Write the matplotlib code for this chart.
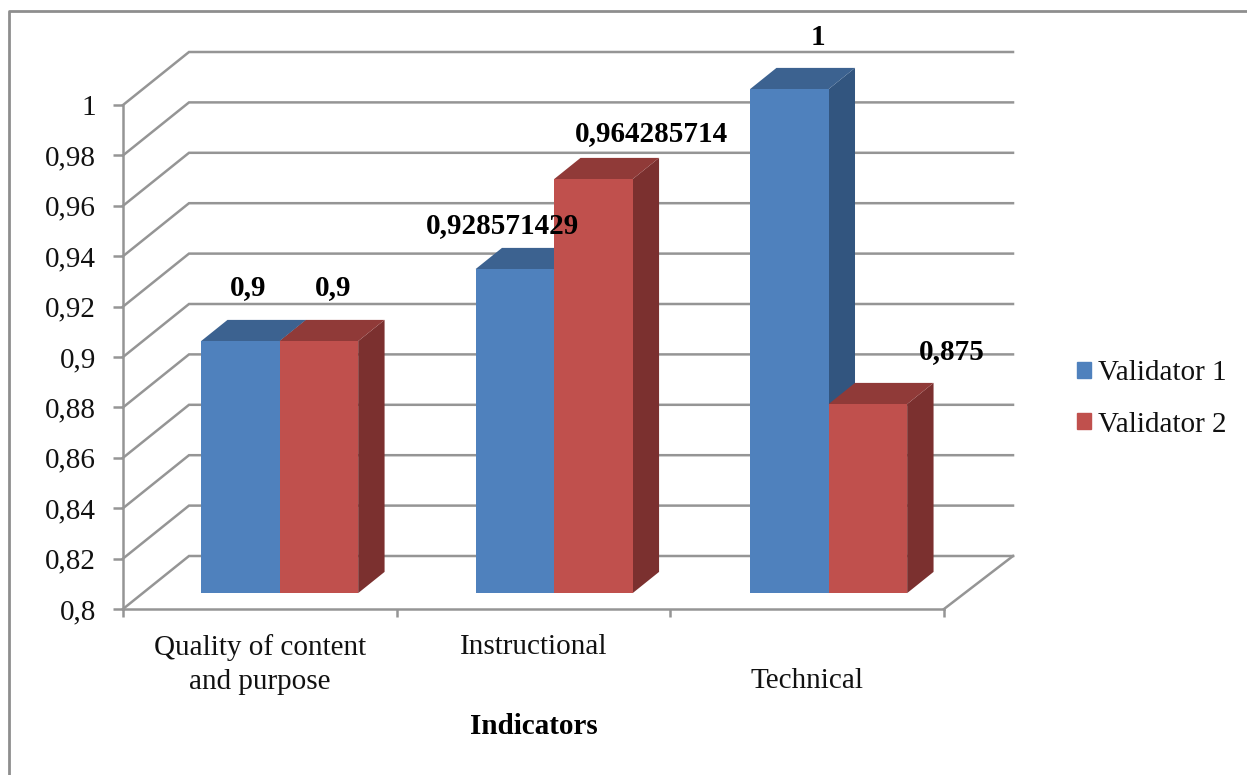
import matplotlib
matplotlib.use("Agg")  # headless, no display
import matplotlib.pyplot as plt
from matplotlib.lines import Line2D
from matplotlib.patches import Patch

categories = ["Quality of content\nand purpose", "Instructional\n ", "\nTechnical"]
validator_1 = [0.9, 0.928571429, 1.0]
validator_2 = [0.9, 0.964285714, 0.875]
labels_1 = ["0,9", "0,928571429", "1"]
labels_2 = ["0,9", "0,964285714", "0,875"]
y_ticks = [0.8, 0.82, 0.84, 0.86, 0.88, 0.9, 0.92, 0.94, 0.96, 0.98, 1.0]
y_tick_labels = ["0,8", "0,82", "0,84", "0,86", "0,88", "0,9", "0,92", "0,94", "0,96", "0,98", "1"]

W, H = 1247, 775
GRID = "#959595"
# fake 3d: how far the back wall is shifted from the front plane, in data units
DEPTH_X = 66 / 273.67
DEPTH_Y = 53 / 2520
BACK_STRETCH = 0.011  # back wall is a touch wider than the front
BAR_STEP = 1.003
BAR_W = 0.287
BAR_NEAR, BAR_FAR = 0.3, 0.7  # bar position inside the depth

plt.rcParams["font.family"] = ["Liberation Serif", "DejaVu Serif"]
fig = plt.figure(figsize=(W / 100, H / 100), dpi=100)
ax = fig.add_axes([123 / W, (H - 609) / H, 821 / W, 504 / H])
ax.set_xlim(0, 3)
ax.set_ylim(0.8, 1.0)
ax.patch.set_visible(False)


def box(x0, value, front, top, side):
    x0 = x0 + DEPTH_X * BAR_NEAR
    x1 = x0 + BAR_W
    dx, dy = DEPTH_X * (BAR_FAR - BAR_NEAR), DEPTH_Y * (BAR_FAR - BAR_NEAR)
    y0 = 0.8 + DEPTH_Y * BAR_NEAR
    y1 = y0 + (value - 0.8)  # value measured from the shifted floor
    kw = dict(clip_on=False, linewidth=0, zorder=3)
    ax.fill([x1, x1 + dx, x1 + dx, x1], [y0, y0 + dy, y1 + dy, y1], color=side, **kw)
    ax.fill([x0, x0 + dx, x1 + dx, x1], [y1, y1 + dy, y1 + dy, y1], color=top, **kw)
    ax.fill([x0, x1, x1, x0], [y0, y0, y1, y1], color=front, **kw)
    return x1, y1


# walls: diagonal on the left, line along the back, then floor edge
back_right = 3 + DEPTH_X + BACK_STRETCH
for t in y_ticks:
    ax.plot([0, DEPTH_X, back_right], [t, t + DEPTH_Y, t + DEPTH_Y],
            color=GRID, lw=1.8, clip_on=False, zorder=1, solid_joinstyle="miter")
ax.plot([3, back_right], [0.8, 0.8 + DEPTH_Y], color=GRID, lw=1.8, clip_on=False, zorder=1)

blue = ("#4F81BD", "#3C6290", "#32557F")
red = ("#C0504D", "#903A38", "#7B302F")
# label shift from the bar's top, px
offsets_1 = [(8, 54), (-12, 44), (29, 52)]
offsets_2 = [(14, 54), (58, 46), (84, 53)]

for i in range(len(categories)):
    left = i * BAR_STEP + 0.5 - BAR_W
    edge1, top1 = box(left, validator_1[i], *blue)
    edge2, top2 = box(left + BAR_W, validator_2[i], *red)
    for edge, top, txt, off in [(edge1, top1, labels_1[i], offsets_1[i]),
                                (edge2, top2, labels_2[i], offsets_2[i])]:
        ax.annotate(txt, (edge - BAR_W / 2, top), xytext=off, textcoords="offset pixels",
                    ha="center", va="center", fontsize=21, fontweight="bold",
                    color="black", zorder=5, annotation_clip=False)

for s in ["top", "right"]:
    ax.spines[s].set_visible(False)
for s in ["left", "bottom"]:
    ax.spines[s].set_color(GRID)
    ax.spines[s].set_linewidth(1.8)

ax.set_yticks(y_ticks, y_tick_labels, fontsize=21, color="#111111")
ax.set_xticks([0, 1, 2, 3], ["", "", "", ""])
ax.set_xticks([0.5, 1.5, 2.5], categories, minor=True, fontsize=21, color="#111111", linespacing=1.42)
ax.tick_params(axis="y", length=7.5, width=1.8, color=GRID, pad=12)
ax.tick_params(axis="x", which="major", length=6, width=1.8, color=GRID)
ax.tick_params(axis="x", which="minor", length=0, pad=18)
ax.set_xlabel("Indicators", fontsize=21, fontweight="bold", labelpad=12.6)

handles = [Patch(color=blue[0], label="Validator 1"), Patch(color=red[0], label="Validator 2")]
fig.legend(handles=handles, loc="center left", bbox_to_anchor=(1077 / W, 1 - 399 / H),
           frameon=False, fontsize=21, handlelength=0.48, handleheight=0.48,
           handletextpad=0.25, labelspacing=0.86, labelcolor="#111111",
           borderpad=0, borderaxespad=0)

# chart frame, cut off at the right and bottom of the picture
fig.add_artist(Line2D([9 / W, 9 / W, 1], [0, 1 - 11 / H, 1 - 11 / H],
                      color="#8E8E8E", lw=2.0, transform=fig.transFigure))

fig.savefig("out.png", dpi=100)
plt.close(fig)
